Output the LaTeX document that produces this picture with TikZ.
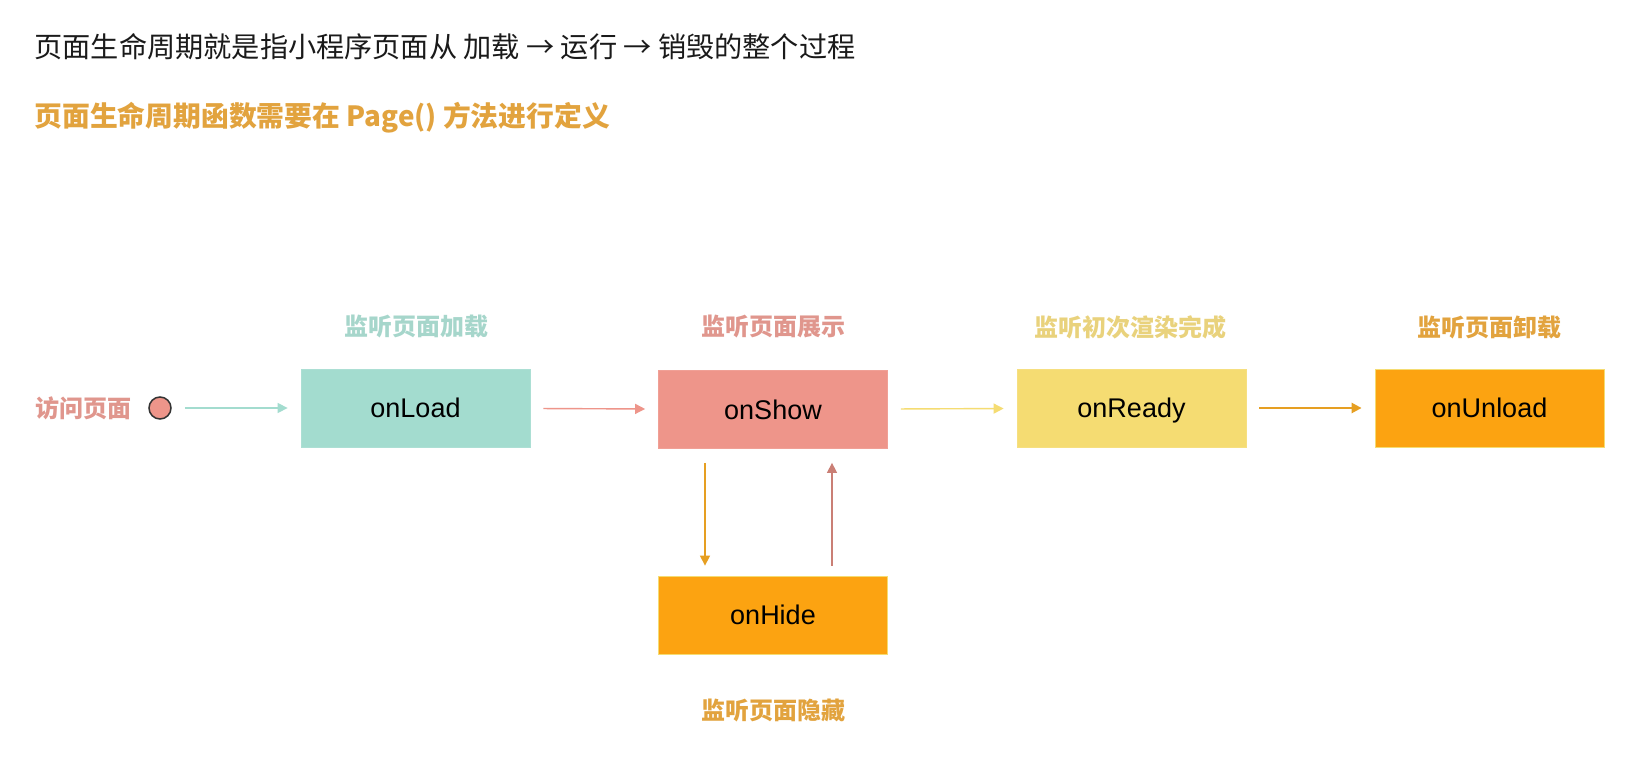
\documentclass[tikz,border=0pt]{standalone}
\usepackage{fontspec}
\setmainfont{Liberation Sans}
\newfontfamily\cjk{Noto Sans CJK SC}
\usetikzlibrary{arrows.meta}

\definecolor{tealbox}{HTML}{A3DCCF}
\definecolor{tealtxt}{HTML}{A6D6CB}
\definecolor{pinkbox}{HTML}{EE958A}
\definecolor{pinktxt}{HTML}{E0968D}
\definecolor{yelbox}{HTML}{F5DC72}
\definecolor{yeltxt}{HTML}{E9D27C}
\definecolor{orgbox}{HTML}{FCA311}
\definecolor{orgtxt}{HTML}{E2A33E}
\definecolor{orgline}{HTML}{E69F22}
\definecolor{title}{HTML}{1A1A1A}

\tikzset{
  stagebox/.style={rectangle, minimum width=114.5pt, minimum height=39pt,
    inner sep=0pt, text height=9.7pt, text depth=0pt,
    font=\fontsize{13.5pt}{16pt}\selectfont, text=black},
  caption/.style={font=\cjk\bfseries\fontsize{12pt}{14pt}\selectfont},
  flow/.style={line width=0.7pt, -{Triangle[length=5pt,width=5pt]},
    shorten <=6.5pt, shorten >=6.5pt},
}

\begin{document}
\begin{tikzpicture}[x=0.5pt,y=-0.5pt]
  \useasboundingbox (0,0) rectangle (1633,764);
  \fill[white] (0,0) rectangle (1633,764);

  % headings
  \node[anchor=west, inner sep=0pt, text=title,
        font=\cjk\fontsize{14.1pt}{17pt}\selectfont] (head) at (34,47)
    {页面生命周期就是指小程序页面从 加载 → 运行 → 销毁的整个过程};
  \node[anchor=west, inner sep=0pt, text=orgtxt,
        font=\cjk\bfseries\fontsize{13.9pt}{17pt}\selectfont] (sub) at (34,118)
    {页面生命周期函数需要在 Page() 方法进行定义};

  % entry point
  \node[caption, text=pinktxt] (visit) at (83,408) {访问页面};
  \node[circle, minimum size=11pt, inner sep=0pt, fill=pinkbox,
        draw=black!80, line width=0.75pt] (dot) at (160,408) {};

  % lifecycle stages
  \node[stagebox, fill=tealbox, draw=tealbox!90!white] (load)   at (415.5,408) {onLoad};
  \node[stagebox, fill=pinkbox, draw=pinkbox!90!white] (show)   at (773,409.5) {onShow};
  \node[stagebox, fill=yelbox,  draw=yelbox!90!white]  (ready)  at (1131.5,408) {onReady};
  \node[stagebox, fill=orgbox,  draw=yelbox]           (unload) at (1489.5,408) {onUnload};
  \node[stagebox, fill=orgbox,  draw=yelbox]           (hide)   at (773,615) {onHide};

  % stage captions
  \node[caption, text=tealtxt] (capload)   at (416,327)  {监听页面加载};
  \node[caption, text=pinktxt] (capshow)   at (773,327)  {监听页面展示};
  \node[caption, text=yeltxt]  (capready)  at (1130,327) {监听初次渲染完成};
  \node[caption, text=orgtxt]  (capunload) at (1489,327) {监听页面卸载};
  \node[caption, text=orgtxt]  (caphide)   at (773,710)  {监听页面隐藏};

  % transitions
  \draw[flow, color=tealbox] (dot) -- (load);
  \draw[flow, color=pinkbox] (load) -- (show);
  \draw[flow, color=yelbox]  (show) -- (ready);
  \draw[flow, color=orgline, line width=1.2pt] (ready) -- (unload);
  \draw[flow, color=orgline, shorten <=0pt, shorten >=0pt]
    ([xshift=-34pt,yshift=-7pt]show.south) -- ([xshift=-34pt,yshift=5pt]hide.north);
  \draw[flow, color=pinkbox!85!black, shorten <=0pt, shorten >=0pt]
    ([xshift=29.5pt,yshift=5pt]hide.north) -- ([xshift=29.5pt,yshift=-7pt]show.south);
\end{tikzpicture}
\end{document}
